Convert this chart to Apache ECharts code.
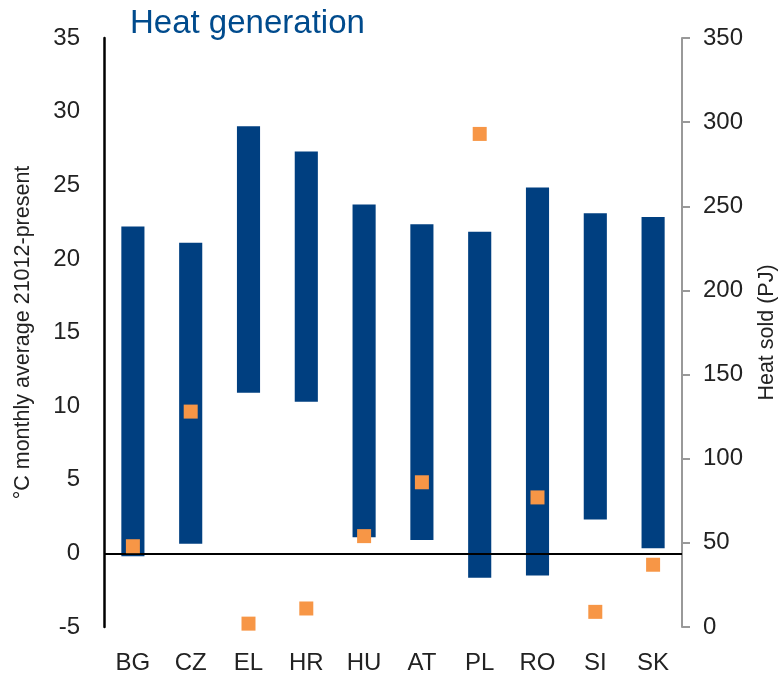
<!DOCTYPE html>
<html>
<head>
<meta charset="utf-8">
<script src="https://cdn.jsdelivr.net/npm/echarts@6/dist/echarts.min.js"></script>
<style>
  html, body { margin: 0; padding: 0; background: #fff; }
  #chart { width: 783px; height: 675px; }
</style>
</head>
<body>
<div id="chart"></div>
<script>
// countries
const countries = ['BG', 'CZ', 'EL', 'HR', 'HU', 'AT', 'PL', 'RO', 'SI', 'SK'];
// monthly average temperature range (°C), left axis
const tempMin = [-0.2, 0.65, 10.9, 10.3, 1.1, 0.9, -1.65, -1.5, 2.3, 0.35];
const tempMax = [22.2, 21.1, 29.0, 27.3, 23.7, 22.35, 21.85, 24.85, 23.1, 22.85];
// heat sold (PJ), right axis
const heatSold = [48, 128, 2, 11, 54, 86, 293, 77, 9, 37];

const leftTicks = { min: -5, max: 35, interval: 5 };
const rightTicks = { min: 0, max: 350, interval: 50 };

const font = 'Liberation Sans, Arial, Helvetica, sans-serif';
const barColor = '#003f80';
const dotColor = '#f79646';

let chart = echarts.init(document.getElementById('chart'));

let span = tempMax.map((v, i) => +(v - tempMin[i]).toFixed(2));

chart.setOption({
  animation: false,
  textStyle: { fontFamily: font },
  title: {
    text: 'Heat generation',
    left: 125,
    top: 2,
    textStyle: { color: '#004b8d', fontSize: 33, fontWeight: 'normal', fontFamily: font }
  },
  grid: { left: 104, right: 101, top: 38, bottom: 48, outerBoundsMode: 'none' },
  xAxis: {
    type: 'category',
    data: countries,
    axisLine: { show: false },
    axisTick: { show: false },
    axisLabel: { color: '#222', fontSize: 24, margin: 24 }
  },
  yAxis: [
    {
      type: 'value',
      min: leftTicks.min,
      max: leftTicks.max,
      interval: leftTicks.interval,
      name: '°C monthly average 21012-present',
      nameLocation: 'middle',
      nameGap: 70,
      nameTextStyle: { color: '#222', fontSize: 21.5 },
      axisLine: { show: true, lineStyle: { color: '#000', width: 2.5 } },
      axisTick: { show: false },
      splitLine: { show: false },
      axisLabel: { color: '#222', fontSize: 24, margin: 24 }
    },
    {
      type: 'value',
      position: 'right',
      min: rightTicks.min,
      max: rightTicks.max,
      interval: rightTicks.interval,
      name: 'Heat sold (PJ)',
      nameLocation: 'middle',
      nameGap: 74,
      nameTextStyle: { color: '#222', fontSize: 21.5 },
      axisLine: { show: true, lineStyle: { color: '#999', width: 2 } },
      axisTick: { show: true, length: 8, lineStyle: { color: '#999', width: 2 } },
      splitLine: { show: false },
      axisLabel: { color: '#222', fontSize: 24, margin: 21 }
    }
  ],
  series: [
    {
      name: 'base',
      type: 'bar',
      stack: 'range',
      stackStrategy: 'all',
      barWidth: '40%',
      itemStyle: { color: 'transparent' },
      silent: true,
      data: tempMin
    },
    {
      name: 'range',
      type: 'bar',
      stack: 'range',
      stackStrategy: 'all',
      barWidth: '40%',
      itemStyle: { color: barColor },
      data: span,
      markLine: {
        silent: true,
        symbol: 'none',
        label: { show: false },
        lineStyle: { color: '#000', width: 2, type: 'solid' },
        data: [{ yAxis: 0 }]
      }
    },
    {
      name: 'Heat sold',
      type: 'scatter',
      yAxisIndex: 1,
      symbol: 'rect',
      symbolSize: 14,
      itemStyle: { color: dotColor, opacity: 1 },
      z: 5,
      data: heatSold
    }
  ]
});
</script>
</body>
</html>
